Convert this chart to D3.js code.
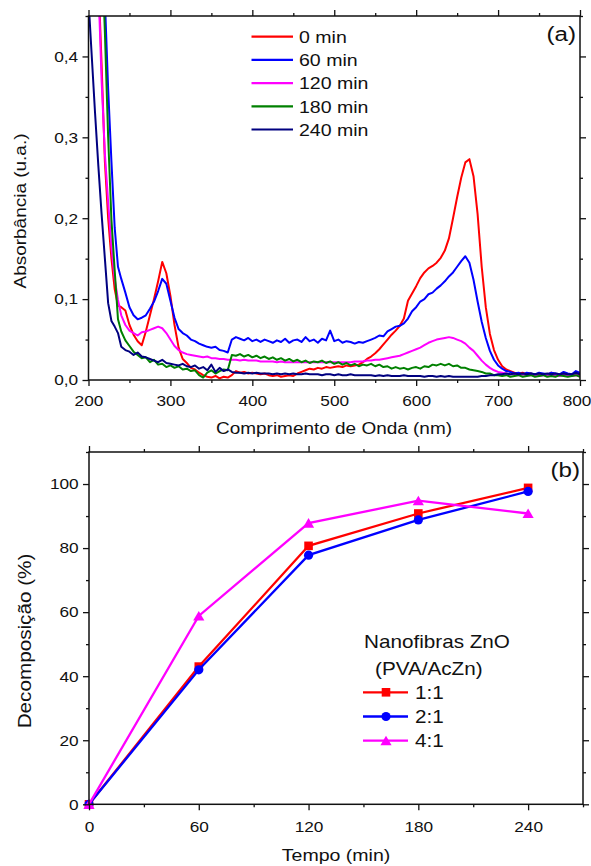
<!DOCTYPE html>
<html>
<head>
<meta charset="utf-8">
<script src="https://cdn.jsdelivr.net/npm/d3@7"></script>
<style>
body { margin: 0; background: #fff; }
svg { display: block; font-family: "Liberation Sans", Arial, sans-serif; }
</style>
</head>
<body>
<div id="chart"></div>
<script>
// ---- dados do painel (a): espectros de absorção ----
var wavelength = [
  200, 204, 208, 212, 216, 220, 224, 228, 232, 236, 240,
  245, 250, 255, 260, 265, 270, 275, 280, 285, 290,
  295, 300, 305, 310, 315, 320, 325, 330, 335, 340,
  345, 350, 355, 360, 365, 370, 375, 380, 385, 390,
  395, 400, 405, 410, 415, 420, 425, 430, 435, 440,
  445, 450, 455, 460, 465, 470, 475, 480, 485, 490,
  495, 500, 505, 510, 515, 520, 525, 530, 535, 540,
  545, 550, 555, 560, 565, 570, 575, 580, 585, 590,
  595, 600, 605, 610, 615, 620, 625, 630, 635, 640,
  645, 650, 655, 660, 665, 670, 675, 680, 685, 690,
  695, 700, 705, 710, 715, 720, 725, 730, 735, 740,
  745, 750, 755, 760, 765, 770, 775, 780, 785, 790,
  795, 800
];

var abs0min = [
  0.75, 0.68, 0.60, 0.50, 0.39, 0.27, 0.20, 0.15, 0.112, 0.092, 0.090,
  0.086, 0.068, 0.056, 0.048, 0.043, 0.060, 0.080, 0.100, 0.122, 0.146,
  0.132, 0.104, 0.068, 0.040, 0.026, 0.021, 0.015, 0.013, 0.009, 0.006,
  0.004, 0.003, 0.005, 0.002, 0.004, 0.003, 0.006, 0.011, 0.009, 0.010,
  0.008, 0.009, 0.008, 0.007, 0.008, 0.006, 0.005, 0.006, 0.004, 0.005,
  0.006, 0.005, 0.008, 0.010, 0.012, 0.014, 0.013, 0.015, 0.014, 0.016,
  0.015, 0.016, 0.017, 0.016, 0.018, 0.017, 0.018, 0.019, 0.022, 0.026,
  0.029, 0.033, 0.038, 0.044, 0.050, 0.056, 0.061, 0.067, 0.076, 0.098,
  0.107, 0.116, 0.126, 0.133, 0.138, 0.141, 0.145, 0.151, 0.160, 0.175,
  0.200, 0.226, 0.250, 0.269, 0.273, 0.252, 0.205, 0.140, 0.090, 0.057,
  0.037, 0.025, 0.017, 0.013, 0.011, 0.009, 0.008, 0.009, 0.007, 0.008,
  0.006, 0.008, 0.007, 0.006, 0.009, 0.007, 0.006, 0.008, 0.006, 0.007,
  0.008, 0.007
];

var abs60min = [
  0.95, 0.85, 0.75, 0.64, 0.55, 0.47, 0.36, 0.27, 0.188, 0.140, 0.125,
  0.108, 0.090, 0.080, 0.075, 0.077, 0.080, 0.088, 0.097, 0.110, 0.125,
  0.119, 0.098, 0.077, 0.063, 0.058, 0.055, 0.050, 0.048, 0.045, 0.043,
  0.041, 0.040, 0.041, 0.037, 0.036, 0.034, 0.050, 0.053, 0.051, 0.049,
  0.052, 0.048, 0.050, 0.047, 0.050, 0.048, 0.046, 0.049, 0.047, 0.051,
  0.046, 0.049, 0.050, 0.047, 0.053, 0.048, 0.050, 0.046, 0.051, 0.049,
  0.061, 0.048, 0.050, 0.046, 0.048, 0.047, 0.045, 0.047, 0.046, 0.048,
  0.050, 0.052, 0.055, 0.054, 0.060, 0.063, 0.066, 0.067, 0.070, 0.076,
  0.085, 0.090, 0.097, 0.100, 0.106, 0.108, 0.113, 0.117, 0.122, 0.128,
  0.133, 0.140, 0.147, 0.153, 0.145, 0.124, 0.097, 0.072, 0.052, 0.036,
  0.025, 0.018, 0.014, 0.011, 0.010, 0.008, 0.009, 0.007, 0.009, 0.008,
  0.007, 0.009, 0.008, 0.007, 0.009, 0.008, 0.007, 0.010, 0.008, 0.007,
  0.011, 0.009
];

var abs120min = [
  0.80, 0.70, 0.60, 0.49, 0.37, 0.28, 0.22, 0.165, 0.125, 0.099, 0.080,
  0.068, 0.061, 0.058, 0.055, 0.059, 0.060, 0.062, 0.064, 0.066, 0.064,
  0.058, 0.050, 0.042, 0.037, 0.034, 0.032, 0.031, 0.030, 0.029, 0.028,
  0.029, 0.027, 0.027, 0.026, 0.026, 0.025, 0.025, 0.025, 0.024, 0.025,
  0.024, 0.024, 0.024, 0.023, 0.023, 0.023, 0.023, 0.022, 0.023, 0.022,
  0.022, 0.022, 0.022, 0.022, 0.022, 0.022, 0.022, 0.022, 0.022, 0.022,
  0.022, 0.022, 0.022, 0.022, 0.022, 0.022, 0.023, 0.023, 0.023, 0.024,
  0.024, 0.025, 0.025, 0.026, 0.027, 0.028, 0.029, 0.030, 0.032, 0.034,
  0.036, 0.038, 0.040, 0.043, 0.046, 0.048, 0.050, 0.051, 0.052, 0.053,
  0.052, 0.050, 0.048, 0.045, 0.040, 0.036, 0.030, 0.024, 0.019, 0.015,
  0.012, 0.010, 0.009, 0.008, 0.007, 0.007, 0.006, 0.007, 0.006, 0.006,
  0.006, 0.005, 0.006, 0.006, 0.005, 0.006, 0.005, 0.006, 0.005, 0.005,
  0.006, 0.005
];

var abs180min = [
  0.90, 0.82, 0.72, 0.62, 0.54, 0.43, 0.30, 0.198, 0.135, 0.075, 0.060,
  0.049, 0.042, 0.035, 0.031, 0.027, 0.028, 0.022, 0.025, 0.019, 0.020,
  0.016, 0.018, 0.015, 0.017, 0.013, 0.014, 0.011, 0.012, 0.006, 0.003,
  0.009, 0.012, 0.008, 0.011, 0.013, 0.012, 0.031, 0.030, 0.032, 0.029,
  0.031, 0.028, 0.030, 0.027, 0.029, 0.026, 0.028, 0.025, 0.027, 0.024,
  0.026, 0.023, 0.025, 0.022, 0.024, 0.021, 0.023, 0.022, 0.024, 0.021,
  0.023, 0.020, 0.022, 0.019, 0.021, 0.018, 0.020, 0.017, 0.019, 0.018,
  0.020, 0.017, 0.019, 0.016, 0.017, 0.014, 0.016, 0.014, 0.015, 0.013,
  0.015, 0.016, 0.014, 0.017, 0.016, 0.019, 0.018, 0.020, 0.018, 0.020,
  0.017, 0.018, 0.015, 0.015, 0.013, 0.012, 0.011, 0.010, 0.008, 0.008,
  0.006, 0.006, 0.005, 0.006, 0.004, 0.005, 0.006, 0.004, 0.005, 0.006,
  0.004, 0.005, 0.006, 0.004, 0.005, 0.004, 0.006, 0.005, 0.004, 0.005,
  0.006, 0.004
];

var abs240min = [
  0.47, 0.40, 0.33, 0.265, 0.205, 0.150, 0.095, 0.073, 0.066, 0.058, 0.041,
  0.037, 0.035, 0.031, 0.034, 0.029, 0.028, 0.026, 0.024, 0.022, 0.025,
  0.021, 0.020, 0.019, 0.018, 0.020, 0.017, 0.016, 0.018, 0.014, 0.016,
  0.012, 0.019, 0.010, 0.015, 0.011, 0.013, 0.010, 0.009, 0.009, 0.008,
  0.009, 0.008, 0.009, 0.008, 0.008, 0.008, 0.007, 0.008, 0.007, 0.008,
  0.007, 0.008, 0.007, 0.007, 0.008, 0.007, 0.007, 0.007, 0.006, 0.007,
  0.007, 0.006, 0.007, 0.006, 0.006, 0.007, 0.006, 0.006, 0.006, 0.006,
  0.006, 0.005, 0.006, 0.005, 0.006, 0.005, 0.005, 0.005, 0.006, 0.005,
  0.005, 0.005, 0.005, 0.004, 0.005, 0.005, 0.004, 0.005, 0.004, 0.005,
  0.004, 0.004, 0.004, 0.004, 0.004, 0.004, 0.004, 0.005, 0.005, 0.006,
  0.006, 0.007, 0.007, 0.008, 0.007, 0.008, 0.007, 0.008, 0.007, 0.008,
  0.007, 0.008, 0.007, 0.008, 0.007, 0.008, 0.007, 0.008, 0.007, 0.007,
  0.009, 0.007
];

var spectraNames = ["0 min", "60 min", "120 min", "180 min", "240 min"];
var spectraTicksX = [200, 300, 400, 500, 600, 700, 800];
var spectraTicksY = [0, 0.1, 0.2, 0.3, 0.4];

// ---- dados do painel (b): decomposição ----
var tempo = [0, 60, 120, 180, 240];
var decomp11 = [0, 43, 80.7, 90.8, 98.8];
var decomp21 = [0, 42, 77.8, 88.8, 97.7];
var decomp41 = [0, 58.8, 87.8, 94.8, 90.8];
var decompNames = ["1:1", "2:1", "4:1"];
var tempoTicks = [0, 60, 120, 180, 240];
var decompTicks = [0, 20, 40, 60, 80, 100];

// ---- estilo ----
var spectraColors = ["#ff0000", "#0000ff", "#ff00ff", "#008000", "#000080"];
var decompColors = ["#ff0000", "#0000ff", "#ff00ff"];
var FONT = '"Liberation Sans", Arial, sans-serif';
var STRETCH = 1.15;

var svg = d3.select("#chart").append("svg")
    .attr("width", 591)
    .attr("height", 866);

function addText(x, y, str, size, anchor, rotate) {
    return svg.append("text")
        .attr("transform", "translate(" + x + "," + y + ")" + (rotate ? " rotate(-90)" : "") + " scale(" + STRETCH + ",1)")
        .attr("text-anchor", anchor || "start")
        .attr("fill", "#111")
        .style("font-size", size + "px")
        .text(str);
}

function styleAxis(g) {
    g.select(".domain").remove();
    g.attr("font-family", FONT);
    g.selectAll(".tick line").attr("stroke", "#111").attr("stroke-width", 1.3);
    g.selectAll(".tick text")
        .attr("fill", "#111")
        .style("font-size", "15px")
        .attr("transform", "scale(" + STRETCH + ",1)");
}

// desenha moldura com ticks nos quatro lados
function drawFrame(x, y, majorX, minorX, majorY, minorY, fmtY, padX) {
    var x0 = x.range()[0], x1 = x.range()[1];
    var y0 = y.range()[0], y1 = y.range()[1];

    var axes = [
        [d3.axisBottom, x, "translate(0," + y0 + ")", majorX, minorX, true],
        [d3.axisTop, x, "translate(0," + y1 + ")", majorX, minorX, false],
        [d3.axisLeft, y, "translate(" + x0 + ",0)", majorY, minorY, true],
        [d3.axisRight, y, "translate(" + x1 + ",0)", majorY, minorY, false]
    ];
    var gs = [];
    axes.forEach(function (a, i) {
        var isX = i < 2;
        var major = a[0](a[1]).tickValues(a[3]).tickSize(6).tickSizeOuter(0);
        if (a[5]) {
            major.tickPadding(isX ? padX : 3).tickFormat(isX ? d3.format("d") : fmtY);
        } else {
            major.tickFormat("");
        }
        gs.push(svg.append("g").attr("transform", a[2]).call(major).call(styleAxis));

        var minorAxis = a[0](a[1]).tickValues(a[4]).tickSize(3).tickSizeOuter(0).tickFormat("");
        svg.append("g").attr("transform", a[2]).call(minorAxis).call(styleAxis);
    });

    svg.append("rect")
        .attr("x", x0).attr("y", y1)
        .attr("width", x1 - x0).attr("height", y0 - y1)
        .attr("fill", "none")
        .attr("stroke", "#111")
        .attr("stroke-width", 1.5);
    return gs;
}

// ================= painel (a) =================
var xA = d3.scaleLinear().domain([200, 800]).range([88.5, 580]);
var yA = d3.scaleLinear().domain([0, 0.45]).range([380, 16]);

svg.append("clipPath").attr("id", "clipA")
    .append("rect")
    .attr("x", 88.5).attr("y", 16)
    .attr("width", 580 - 88.5).attr("height", 380 - 16);

var spectra = [abs0min, abs60min, abs120min, abs180min, abs240min];
var lineA = d3.line()
    .x(function (d) { return xA(d[0]); })
    .y(function (d) { return yA(d[1]); });

var gA = svg.append("g").attr("clip-path", "url(#clipA)");
spectra.forEach(function (serie, i) {
    gA.append("path")
        .datum(wavelength.map(function (w, j) { return [w, serie[j]]; }))
        .attr("fill", "none")
        .attr("stroke", spectraColors[i])
        .attr("stroke-width", 2)
        .attr("stroke-linejoin", "round")
        .attr("d", lineA);
});

var commaFmt = function (v) { return d3.format(".1f")(v).replace(".", ","); };
var axesA = drawFrame(xA, yA, spectraTicksX, d3.range(250, 800, 100), spectraTicksY, [0.05, 0.15, 0.25, 0.35, 0.45], commaFmt, 9);
// o rótulo 800 encosta na borda da janela
axesA[0].selectAll(".tick text").filter(function (d) { return d === 800; }).attr("dx", -3);

// legenda (a)
spectraNames.forEach(function (name, i) {
    var ly = 36.7 + i * 23.2;
    svg.append("line")
        .attr("x1", 251.5).attr("x2", 293)
        .attr("y1", ly).attr("y2", ly)
        .attr("stroke", spectraColors[i])
        .attr("stroke-width", 2.2);
    addText(299, ly + 6.2, name, 17, "start");
});
addText(576, 41, "(a)", 21, "end");

addText(25.5, 211, "Absorbância (u.a.)", 16.5, "middle", true);
addText(334, 433.5, "Comprimento de Onda (nm)", 16.5, "middle");

// ================= painel (b) =================
var xB = d3.scaleLinear().domain([0, 270]).range([89, 583]);
var yB = d3.scaleLinear().domain([0, 110]).range([804.3, 452]);

var lineB = d3.line()
    .x(function (d) { return xB(d[0]); })
    .y(function (d) { return yB(d[1]); });

var squarePath = "M-4.3,-4.3H4.3V4.3H-4.3Z";
var trianglePath = "M0,-5L5.6,4.6H-5.6Z";

function marker(g, kind, cx, cy, color) {
    if (kind === 1) {
        g.append("circle").attr("cx", cx).attr("cy", cy).attr("r", 4.6).attr("fill", color);
    } else {
        g.append("path")
            .attr("d", kind === 0 ? squarePath : trianglePath)
            .attr("transform", "translate(" + cx + "," + cy + ")")
            .attr("fill", color);
    }
}

var decomp = [decomp11, decomp21, decomp41];
var gB = svg.append("g");
decomp.forEach(function (serie, i) {
    var pts = tempo.map(function (t, j) { return [t, serie[j]]; });
    gB.append("path")
        .datum(pts)
        .attr("fill", "none")
        .attr("stroke", decompColors[i])
        .attr("stroke-width", 2.3)
        .attr("d", lineB);
    pts.forEach(function (p) {
        marker(gB, i, xB(p[0]), yB(p[1]), decompColors[i]);
    });
});

drawFrame(xB, yB, tempoTicks, [30, 90, 150, 210, 270], decompTicks, d3.range(10, 111, 20), d3.format("d"), 11);

// legenda (b)
addText(364, 648, "Nanofibras ZnO", 18, "start");
addText(375, 675, "(PVA/AcZn)", 18, "start");
decompNames.forEach(function (name, i) {
    var ly = 692.3 + i * 24.2;
    svg.append("line")
        .attr("x1", 363).attr("x2", 408)
        .attr("y1", ly).attr("y2", ly)
        .attr("stroke", decompColors[i])
        .attr("stroke-width", 2.3);
    marker(svg, i, 386, ly, decompColors[i]);
    addText(415, ly + 6.5, name, 18, "start");
});
addText(580, 477, "(b)", 21, "end");

addText(31, 641, "Decomposição (%)", 18, "middle", true);
addText(336, 860.5, "Tempo (min)", 17, "middle");
</script>
</body>
</html>
